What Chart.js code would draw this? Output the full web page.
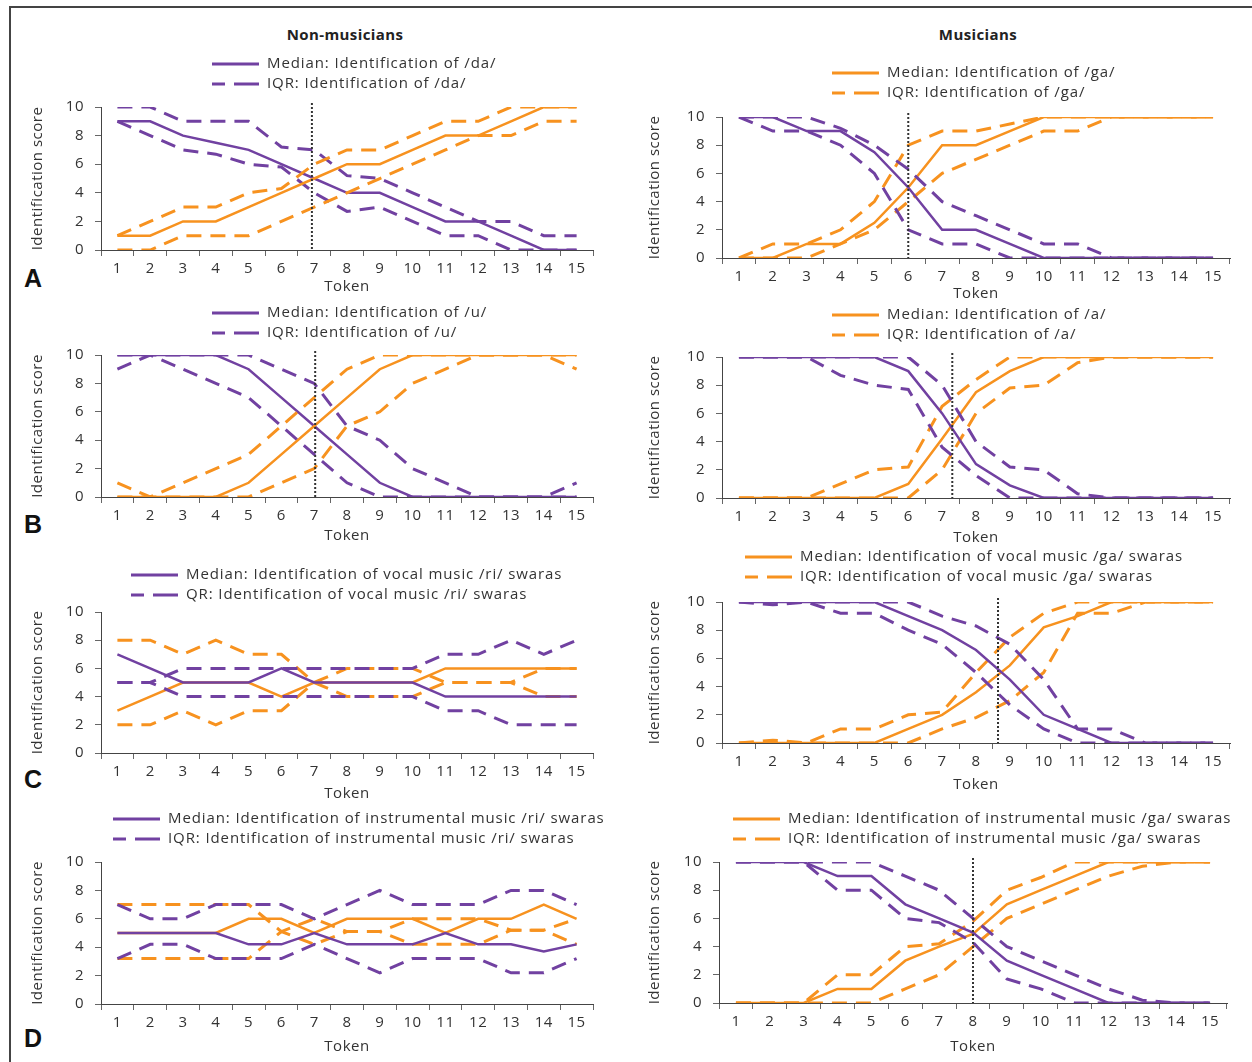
<!DOCTYPE html>
<html>
<head>
<meta charset="utf-8">
<script src="https://cdn.jsdelivr.net/npm/chart.js@4.4.1/dist/chart.umd.min.js"></script>
<style>
  body { margin: 0; background: #fff; width: 1252px; height: 1062px; position: relative; overflow: hidden; }
  .frame { position: absolute; left: 9px; top: 6px; width: 1300px; height: 1100px; border-top: 2px solid #444; border-left: 2px solid #444; }
  .coltitle { position: absolute; top: 24px; width: 300px; text-align: center; font: bold 15px "Open Sans", Lato, sans-serif; letter-spacing: 0.4px; color: #222; }
  .letter { position: absolute; left: 24px; width: 24px; font: bold 25px "Liberation Sans", Arial, sans-serif; color: #111; }
  .panel { position: absolute; }
</style>
</head>
<body>
<div class="frame"></div>
<div class="coltitle" style="left:195px">Non-musicians</div>
<div class="coltitle" style="left:828px">Musicians</div>
<div class="letter" style="top:264px">A</div>
<div class="letter" style="top:510px">B</div>
<div class="letter" style="top:765px">C</div>
<div class="letter" style="top:1024px">D</div>

<script>
// token continuum, x axis
const tokens = ['1', '2', '3', '4', '5', '6', '7', '8', '9', '10', '11', '12', '13', '14', '15'];

// A - non-musicians (/da/ purple, /ga/ orange)
const nmA_purpleMed = [9, 9, 8, 7.5, 7, 6, 5, 4, 4, 3, 2, 2, 1, 0, 0];
const nmA_purpleQ3 = [10, 10, 9, 9, 9, 7.2, 7, 5.2, 5, 4, 3, 2, 2, 1, 1];
const nmA_purpleQ1 = [9, 8, 7, 6.7, 6, 5.8, 4, 2.7, 3, 2, 1, 1, 0, 0, 0];
const nmA_orangeMed = [1, 1, 2, 2, 3, 4, 5, 6, 6, 7, 8, 8, 9, 10, 10];
const nmA_orangeQ3 = [1, 2, 3, 3, 4, 4.3, 6, 7, 7, 8, 9, 9, 10, 10, 10];
const nmA_orangeQ1 = [0, 0, 1, 1, 1, 2, 3, 4, 5, 6, 7, 8, 8, 9, 9];

// A - musicians
const mA_orangeMed = [0, 0, 1, 1, 2.5, 5, 8, 8, 9, 10, 10, 10, 10, 10, 10];
const mA_orangeQ3 = [0, 1, 1, 2, 4, 8, 9, 9, 9.5, 10, 10, 10, 10, 10, 10];
const mA_orangeQ1 = [0, 0, 0, 1, 2, 4, 6, 7, 8, 9, 9, 10, 10, 10, 10];
const mA_purpleMed = [10, 10, 9, 9, 7.5, 5, 2, 2, 1, 0, 0, 0, 0, 0, 0];
const mA_purpleQ3 = [10, 10, 10, 9.2, 8, 6.3, 4, 3, 2, 1, 1, 0, 0, 0, 0];
const mA_purpleQ1 = [10, 9, 9, 8, 6, 2, 1, 1, 0, 0, 0, 0, 0, 0, 0];

// B - non-musicians (/u/)
const nmB_purpleMed = [10, 10, 10, 10, 9, 7, 5, 3, 1, 0, 0, 0, 0, 0, 0];
const nmB_purpleQ3 = [10, 10, 10, 10, 10, 9, 8, 5, 4, 2, 1, 0, 0, 0, 1];
const nmB_purpleQ1 = [9, 10, 9, 8, 7, 5, 3, 1, 0, 0, 0, 0, 0, 0, 0];
const nmB_orangeMed = [0, 0, 0, 0, 1, 3, 5, 7, 9, 10, 10, 10, 10, 10, 10];
const nmB_orangeQ3 = [1, 0, 1, 2, 3, 5, 7, 9, 10, 10, 10, 10, 10, 10, 10];
const nmB_orangeQ1 = [0, 0, 0, 0, 0, 1, 2, 5, 6, 8, 9, 10, 10, 10, 9];

// B - musicians (/a/)
const mB_orangeMed = [0, 0, 0, 0, 0, 1, 4.2, 7.5, 9, 10, 10, 10, 10, 10, 10];
const mB_orangeQ3 = [0, 0, 0, 1, 2, 2.2, 6.5, 8.4, 10, 10, 10, 10, 10, 10, 10];
const mB_orangeQ1 = [0, 0, 0, 0, 0, 0, 2, 6, 7.8, 8, 9.6, 10, 10, 10, 10];
const mB_purpleMed = [10, 10, 10, 10, 10, 9, 6, 2.4, 0.9, 0, 0, 0, 0, 0, 0];
const mB_purpleQ3 = [10, 10, 10, 10, 10, 10, 8, 4, 2.2, 2, 0.3, 0, 0, 0, 0];
const mB_purpleQ1 = [10, 10, 10, 8.7, 8, 7.7, 3.6, 1.6, 0, 0, 0, 0, 0, 0, 0];

// C - non-musicians (vocal /ri/)
const nmC_purpleMed = [7, 6, 5, 5, 5, 6, 5, 5, 5, 5, 4, 4, 4, 4, 4];
const nmC_purpleQ3 = [5, 5, 6, 6, 6, 6, 6, 6, 6, 6, 7, 7, 8, 7, 8];
const nmC_purpleQ1 = [5, 5, 4, 4, 4, 4, 4, 4, 4, 4, 3, 3, 2, 2, 2];
const nmC_orangeMed = [3, 4, 5, 5, 5, 4, 5, 5, 5, 5, 6, 6, 6, 6, 6];
const nmC_orangeQ3 = [8, 8, 7, 8, 7, 7, 5, 6, 6, 6, 5, 5, 5, 6, 6];
const nmC_orangeQ1 = [2, 2, 3, 2, 3, 3, 5, 4, 4, 4, 5, 5, 5, 4, 4];

// C - musicians (vocal /ga/)
const mC_orangeMed = [0, 0, 0, 0, 0, 1, 2, 3.6, 5.5, 8.2, 9, 10, 10, 10, 10];
const mC_orangeQ3 = [0, 0.2, 0, 1, 1, 2, 2.2, 5, 7.5, 9.2, 10, 10, 10, 10, 10];
const mC_orangeQ1 = [0, 0, 0, 0, 0, 0, 1, 1.8, 3, 5, 9.2, 9.2, 10, 10, 10];
const mC_purpleMed = [10, 10, 10, 10, 10, 9, 8, 6.6, 4.5, 2, 1, 0, 0, 0, 0];
const mC_purpleQ3 = [10, 10, 10, 10, 10, 10, 9, 8.3, 7, 4.5, 1, 1, 0, 0, 0];
const mC_purpleQ1 = [10, 9.8, 10, 9.2, 9.2, 8, 7, 5, 2.7, 1, 0, 0, 0, 0, 0];

// D - non-musicians (instrumental /ri/)
const nmD_purpleMed = [5, 5, 5, 5, 4.2, 4.2, 5, 4.2, 4.2, 4.2, 5, 4.2, 4.2, 3.7, 4.2];
const nmD_purpleQ3 = [7, 6, 6, 7, 7, 7, 6, 7, 8, 7, 7, 7, 8, 8, 7];
const nmD_purpleQ1 = [3.2, 4.2, 4.2, 3.2, 3.2, 3.2, 4.2, 3.2, 2.2, 3.2, 3.2, 3.2, 2.2, 2.2, 3.2];
const nmD_orangeMed = [5, 5, 5, 5, 6, 6, 5, 6, 6, 6, 5, 6, 6, 7, 6];
const nmD_orangeQ3 = [7, 7, 7, 7, 7, 5.1, 6, 5.1, 5.1, 6, 6, 6, 5.2, 5.2, 6];
const nmD_orangeQ1 = [3.2, 3.2, 3.2, 3.2, 3.2, 5.1, 4.2, 5.1, 5.1, 4.2, 4.2, 4.2, 5.2, 5.2, 4.2];

// D - musicians (instrumental /ga/)
const mD_orangeMed = [0, 0, 0, 1, 1, 3, 4, 4.9, 7, 8, 9, 10, 10, 10, 10];
const mD_orangeQ3 = [0, 0, 0, 2, 2, 4, 4.2, 5.8, 8, 8.9, 10, 10, 10, 10, 10];
const mD_orangeQ1 = [0, 0, 0, 0, 0, 1, 2, 4, 6, 7, 8, 9, 9.7, 10, 10];
const mD_purpleMed = [10, 10, 10, 9, 9, 7, 6, 5, 3, 2, 1, 0, 0, 0, 0];
const mD_purpleQ3 = [10, 10, 10, 10, 10, 9, 8, 6, 4, 3, 2, 1, 0.2, 0, 0];
const mD_purpleQ1 = [10, 10, 10, 8, 8, 6, 5.7, 4.3, 1.7, 1, 0, 0, 0, 0, 0];

// 50% crossover token (dotted line), null = none
const crossoverNM = [6.93, 7.03, null, null];
const crossoverM = [6, 7.3, 8.65, 8];

const legendNM = [
  ['Median: Identification of /da/', 'IQR: Identification of /da/'],
  ['Median: Identification of /u/', 'IQR: Identification of /u/'],
  ['Median: Identification of vocal music /ri/ swaras', 'QR: Identification of vocal music /ri/ swaras'],
  ['Median: Identification of instrumental music /ri/ swaras', 'IQR: Identification of instrumental music /ri/ swaras']
];
const legendM = [
  ['Median: Identification of /ga/', 'IQR: Identification of /ga/'],
  ['Median: Identification of /a/', 'IQR: Identification of /a/'],
  ['Median: Identification of vocal music /ga/ swaras', 'IQR: Identification of vocal music /ga/ swaras'],
  ['Median: Identification of instrumental music /ga/ swaras', 'IQR: Identification of instrumental music /ga/ swaras']
];

const PURPLE = '#7141a1';
const ORANGE = '#f7921f';
const TEXT = '#333';
const FONT = '"Open Sans", Lato, sans-serif';
const SPACING = '0.5px';

function group(med, q3, q1, color) {
  return [
    { data: q3, borderColor: color, borderWidth: 3, borderDash: [15, 9] },
    { data: q1, borderColor: color, borderWidth: 3, borderDash: [15, 9] },
    { data: med, borderColor: color, borderWidth: 2.5 }
  ];
}

// dotted crossover line + two-row legend
const decor = {
  id: 'decor',
  beforeUpdate(chart) { chart.ctx.letterSpacing = SPACING; },
  beforeDraw(chart) { chart.ctx.letterSpacing = SPACING; },
  afterDatasetsDraw(chart, args, o) {
    if (o.crossover == null) return;
    const { ctx, chartArea } = chart;
    const x = chart.scales.x.getPixelForValue(o.crossover - 1);
    ctx.save();
    ctx.strokeStyle = '#333';
    ctx.lineWidth = 2;
    ctx.setLineDash([2, 2]);
    ctx.beginPath();
    ctx.moveTo(x, chartArea.top - 4);
    ctx.lineTo(x, chartArea.bottom);
    ctx.stroke();
    ctx.restore();
  },
  afterDraw(chart, args, o) {
    const ctx = chart.ctx;
    ctx.save();
    ctx.letterSpacing = '0.9px';
    o.items.forEach((text, i) => {
      const y = o.y + i * 20;
      ctx.strokeStyle = o.color;
      ctx.lineWidth = 3;
      ctx.setLineDash(i ? [13, 9, 25, 100] : []);
      ctx.beginPath();
      ctx.moveTo(o.x, y);
      ctx.lineTo(o.x + 47, y);
      ctx.stroke();
      ctx.fillStyle = TEXT;
      ctx.font = '15px ' + FONT;
      ctx.textBaseline = 'middle';
      ctx.fillText(text, o.x + 55, y);
    });
    ctx.restore();
  }
};

// page layout of the eight panels
const panels = [
  { cl: 12, ct: 45, cw: 592, ch: 262, al: 101, ar: 593, at: 107, ab: 250, tokenY: 287, titleX: 38, lx: 212, ly: 64,
    legend: legendNM[0], color: PURPLE, cross: crossoverNM[0],
    sets: [...group(nmA_orangeMed, nmA_orangeQ3, nmA_orangeQ1, ORANGE), ...group(nmA_purpleMed, nmA_purpleQ3, nmA_purpleQ1, PURPLE)] },
  { cl: 625, ct: 55, cw: 620, ch: 255, al: 722, ar: 1230, at: 117, ab: 258, tokenY: 294, titleX: 655, lx: 832, ly: 73,
    legend: legendM[0], color: ORANGE, cross: crossoverM[0],
    sets: [...group(mA_purpleMed, mA_purpleQ3, mA_purpleQ1, PURPLE), ...group(mA_orangeMed, mA_orangeQ3, mA_orangeQ1, ORANGE)] },
  { cl: 12, ct: 298, cw: 592, ch: 252, al: 101, ar: 593, at: 355, ab: 497, tokenY: 536, titleX: 38, lx: 212, ly: 313,
    legend: legendNM[1], color: PURPLE, cross: crossoverNM[1],
    sets: [...group(nmB_orangeMed, nmB_orangeQ3, nmB_orangeQ1, ORANGE), ...group(nmB_purpleMed, nmB_purpleQ3, nmB_purpleQ1, PURPLE)] },
  { cl: 625, ct: 300, cw: 620, ch: 250, al: 722, ar: 1230, at: 357, ab: 498, tokenY: 538, titleX: 655, lx: 832, ly: 315,
    legend: legendM[1], color: ORANGE, cross: crossoverM[1],
    sets: [...group(mB_purpleMed, mB_purpleQ3, mB_purpleQ1, PURPLE), ...group(mB_orangeMed, mB_orangeQ3, mB_orangeQ1, ORANGE)] },
  { cl: 12, ct: 555, cw: 592, ch: 250, al: 101, ar: 593, at: 612, ab: 753, tokenY: 794, titleX: 38, lx: 131, ly: 575,
    legend: legendNM[2], color: PURPLE, cross: crossoverNM[2],
    sets: [...group(nmC_purpleMed, nmC_purpleQ3, nmC_purpleQ1, PURPLE), ...group(nmC_orangeMed, nmC_orangeQ3, nmC_orangeQ1, ORANGE)] },
  { cl: 625, ct: 545, cw: 620, ch: 258, al: 722, ar: 1230, at: 602, ab: 743, tokenY: 785, titleX: 655, lx: 745, ly: 557,
    legend: legendM[2], color: ORANGE, cross: crossoverM[2],
    sets: [...group(mC_purpleMed, mC_purpleQ3, mC_purpleQ1, PURPLE), ...group(mC_orangeMed, mC_orangeQ3, mC_orangeQ1, ORANGE)] },
  { cl: 12, ct: 805, cw: 592, ch: 257, al: 101, ar: 593, at: 862, ab: 1004, tokenY: 1047, titleX: 38, lx: 113, ly: 819,
    legend: legendNM[3], color: PURPLE, cross: crossoverNM[3],
    sets: [...group(nmD_purpleMed, nmD_purpleQ3, nmD_purpleQ1, PURPLE), ...group(nmD_orangeMed, nmD_orangeQ3, nmD_orangeQ1, ORANGE)] },
  { cl: 625, ct: 805, cw: 620, ch: 257, al: 719, ar: 1227, at: 862, ab: 1003, tokenY: 1047, titleX: 655, lx: 733, ly: 819,
    legend: legendM[3], color: ORANGE, cross: crossoverM[3],
    sets: [...group(mD_purpleMed, mD_purpleQ3, mD_purpleQ1, PURPLE), ...group(mD_orangeMed, mD_orangeQ3, mD_orangeQ1, ORANGE)] }
];

const tickFont = { family: FONT, size: 15 };

panels.forEach(p => {
  const div = document.createElement('div');
  div.className = 'panel';
  div.style.cssText = `left:${p.cl}px;top:${p.ct}px;width:${p.cw}px;height:${p.ch}px;`;
  const canvas = document.createElement('canvas');
  div.appendChild(canvas);
  document.body.appendChild(div);

  const padLeft = p.titleX - 13 - p.cl;
  const yWidth = p.al - p.cl - padLeft;
  const xHeight = p.tokenY + 13 - p.ab;

  new Chart(canvas, {
    type: 'line',
    data: {
      labels: tokens,
      datasets: p.sets.map(s => ({ ...s, pointRadius: 0, fill: false, tension: 0 }))
    },
    plugins: [decor],
    options: {
      responsive: true,
      maintainAspectRatio: false,
      animation: false,
      layout: {
        padding: { left: padLeft, right: p.cl + p.cw - p.ar, top: p.at - p.ct, bottom: p.ct + p.ch - p.ab - xHeight }
      },
      plugins: {
        legend: { display: false },
        tooltip: { enabled: false },
        decor: { items: p.legend, color: p.color, x: p.lx - p.cl, y: p.ly - p.ct, crossover: p.cross }
      },
      scales: {
        x: {
          offset: true,
          grid: { drawOnChartArea: false, drawTicks: true, tickLength: 6, color: '#666', offset: true },
          border: { color: '#444', width: 1 },
          ticks: { font: tickFont, color: TEXT, padding: 4, autoSkip: false, maxRotation: 0 },
          title: { display: true, text: 'Token', font: tickFont, color: TEXT, padding: { top: 0, bottom: 4 } },
          afterFit: s => { s.height = xHeight; }
        },
        y: {
          min: 0, max: 10,
          grid: { drawOnChartArea: false, drawTicks: true, tickLength: 6, color: '#666' },
          border: { color: '#444', width: 1 },
          ticks: { stepSize: 2, font: tickFont, color: TEXT, padding: 11 },
          title: { display: true, text: 'Identification score', font: tickFont, color: TEXT, padding: { top: 4, bottom: 0 } },
          afterFit: s => { s.width = yWidth; }
        }
      }
    }
  });
});
</script>
</body>
</html>
